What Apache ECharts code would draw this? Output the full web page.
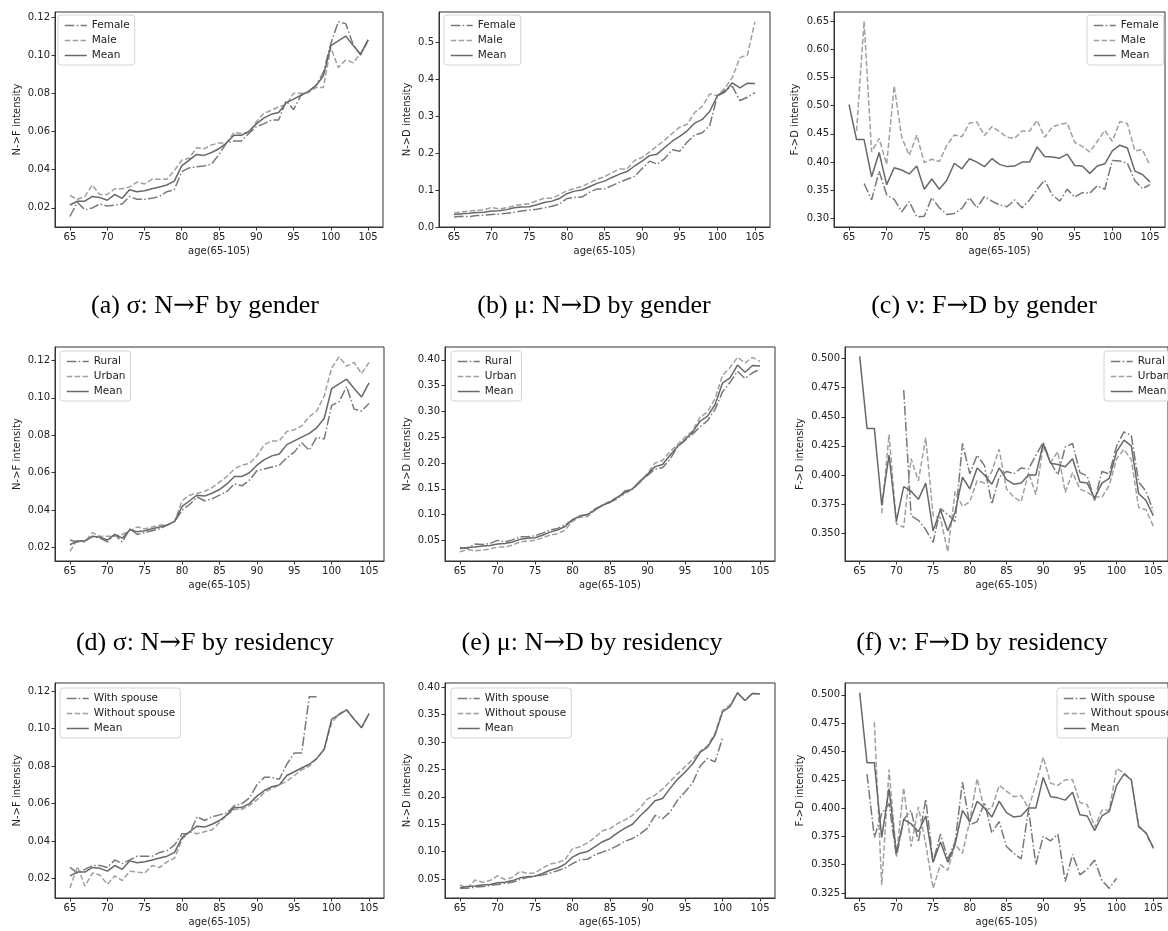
<!DOCTYPE html>
<html>
<head>
<meta charset="utf-8">
<script src="https://cdn.jsdelivr.net/npm/echarts@6/dist/echarts.min.js"></script>
<style>
  html, body { margin: 0; padding: 0; background: #fff; }
  #main { width: 1168px; height: 931px; }
</style>
</head>
<body>
<div id="main"></div>
<script>
// ages on the x axis
var ages = [65, 66, 67, 68, 69, 70, 71, 72, 73, 74,
            75, 76, 77, 78, 79, 80, 81, 82, 83, 84,
            85, 86, 87, 88, 89, 90, 91, 92, 93, 94,
            95, 96, 97, 98, 99, 100, 101, 102, 103, 104,
            105];
var xTicks = [65, 70, 75, 80, 85, 90, 95, 100, 105];

// y tick labels
var yTicksNF = [0.02, 0.04, 0.06, 0.08, 0.10, 0.12];
var yTicksNDb = [0.0, 0.1, 0.2, 0.3, 0.4, 0.5];
var yTicksFDc = [0.30, 0.35, 0.40, 0.45, 0.50, 0.55, 0.60, 0.65];
var yTicksND = [0.05, 0.10, 0.15, 0.20, 0.25, 0.30, 0.35, 0.40];
var yTicksFDf = [0.350, 0.375, 0.400, 0.425, 0.450, 0.475, 0.500];
var yTicksFDi = [0.325, 0.350, 0.375, 0.400, 0.425, 0.450, 0.475, 0.500];

// means (same in every grouping)
var meanNF = [0.0215, 0.0235, 0.0235, 0.026, 0.0255, 0.024, 0.027, 0.025, 0.0295, 0.0285,
              0.029, 0.030, 0.031, 0.032, 0.034, 0.042, 0.045, 0.048, 0.0475, 0.049,
              0.051, 0.054, 0.058, 0.058, 0.060, 0.064, 0.067, 0.069, 0.070, 0.075,
              0.077, 0.079, 0.081, 0.084, 0.089, 0.105, 0.1075, 0.110, 0.105, 0.1005,
              0.108];
var meanND = [0.034, 0.036, 0.037, 0.039, 0.040, 0.043, 0.044, 0.047, 0.052, 0.054,
              0.055, 0.060, 0.066, 0.070, 0.077, 0.090, 0.097, 0.100, 0.109, 0.118,
              0.124, 0.134, 0.143, 0.150, 0.165, 0.178, 0.193, 0.197, 0.215, 0.232,
              0.245, 0.260, 0.281, 0.291, 0.313, 0.355, 0.365, 0.390, 0.376, 0.389,
              0.388];
var meanFD = [0.502, 0.440, 0.440, 0.374, 0.417, 0.360, 0.390, 0.386, 0.379, 0.393,
              0.352, 0.370, 0.352, 0.368, 0.398, 0.388, 0.406, 0.400, 0.392, 0.406,
              0.396, 0.392, 0.393, 0.400, 0.400, 0.427, 0.410, 0.409, 0.407, 0.414,
              0.394, 0.393, 0.380, 0.393, 0.397, 0.420, 0.430, 0.425, 0.384, 0.378,
              0.365];

// by gender
var femaleNF = [0.0155, 0.023, 0.019, 0.020, 0.022, 0.021, 0.0215, 0.022, 0.026, 0.0245,
                0.0245, 0.025, 0.026, 0.0285, 0.0295, 0.039, 0.041, 0.0415, 0.042, 0.043,
                0.048, 0.054, 0.055, 0.055, 0.059, 0.0625, 0.064, 0.066, 0.066, 0.076,
                0.0715, 0.079, 0.081, 0.084, 0.091, 0.106, 0.1175, 0.1165, 0.1055, 0.100,
                0.108];
var maleNF = [0.0265, 0.0245, 0.026, 0.032, 0.027, 0.027, 0.030, 0.030, 0.031, 0.0335,
              0.0325, 0.035, 0.035, 0.035, 0.0395, 0.045, 0.046, 0.0515, 0.051, 0.053,
              0.054, 0.054, 0.0595, 0.059, 0.0595, 0.065, 0.0695, 0.071, 0.073, 0.074,
              0.080, 0.080, 0.0805, 0.083, 0.083, 0.104, 0.0935, 0.0975, 0.096, 0.101,
              0.107];
var femaleND = [0.027, 0.029, 0.028, 0.031, 0.032, 0.034, 0.035, 0.037, 0.040, 0.043,
                0.046, 0.048, 0.052, 0.056, 0.062, 0.077, 0.080, 0.081, 0.094, 0.103,
                0.103, 0.112, 0.121, 0.129, 0.137, 0.158, 0.178, 0.170, 0.185, 0.209,
                0.205, 0.230, 0.249, 0.255, 0.275, 0.355, 0.370, 0.380, 0.342, 0.351,
                0.363];
var maleND = [0.038, 0.041, 0.043, 0.045, 0.046, 0.053, 0.049, 0.052, 0.057, 0.061,
              0.063, 0.071, 0.078, 0.078, 0.087, 0.098, 0.104, 0.110, 0.119, 0.129,
              0.136, 0.147, 0.157, 0.157, 0.180, 0.188, 0.203, 0.219, 0.235, 0.253,
              0.270, 0.278, 0.310, 0.326, 0.360, 0.355, 0.375, 0.405, 0.458, 0.465,
              0.555];
var femaleFD = [null, null, 0.362, 0.333, 0.384, 0.342, 0.334, 0.312, 0.330, 0.303,
                0.304, 0.337, 0.319, 0.307, 0.309, 0.318, 0.337, 0.319, 0.339, 0.331,
                0.324, 0.321, 0.333, 0.319, 0.333, 0.352, 0.368, 0.342, 0.331, 0.352,
                0.338, 0.346, 0.345, 0.358, 0.352, 0.403, 0.402, 0.398, 0.367, 0.353,
                0.360];
var maleFD = [null, 0.455, 0.650, 0.418, 0.442, 0.396, 0.535, 0.444, 0.412, 0.448,
              0.399, 0.405, 0.401, 0.430, 0.448, 0.445, 0.469, 0.471, 0.447, 0.463,
              0.454, 0.444, 0.442, 0.455, 0.455, 0.474, 0.444, 0.462, 0.467, 0.469,
              0.435, 0.428, 0.418, 0.437, 0.456, 0.437, 0.472, 0.468, 0.420, 0.422,
              0.394];

// by residency
var ruralNF = [0.024, 0.023, 0.0235, 0.026, 0.025, 0.023, 0.027, 0.023, 0.030, 0.027,
               0.028, 0.029, 0.030, 0.032, 0.034, 0.040, 0.043, 0.047, 0.045, 0.046,
               0.048, 0.050, 0.054, 0.053, 0.056, 0.061, 0.062, 0.063, 0.064, 0.068,
               0.071, 0.076, 0.072, 0.079, 0.078, 0.096, 0.098, 0.106, 0.094, 0.093,
               0.097];
var urbanNF = [0.018, 0.024, 0.023, 0.028, 0.026, 0.026, 0.026, 0.027, 0.029, 0.031,
               0.030, 0.031, 0.032, 0.032, 0.034, 0.045, 0.048, 0.049, 0.050, 0.052,
               0.055, 0.058, 0.062, 0.064, 0.065, 0.069, 0.075, 0.077, 0.077, 0.082,
               0.083, 0.085, 0.090, 0.093, 0.101, 0.116, 0.122, 0.117, 0.119, 0.113,
               0.119];
var ruralND = [0.036, 0.034, 0.043, 0.042, 0.044, 0.050, 0.047, 0.051, 0.057, 0.057,
               0.059, 0.064, 0.070, 0.073, 0.080, 0.090, 0.098, 0.100, 0.111, 0.118,
               0.124, 0.131, 0.146, 0.149, 0.163, 0.176, 0.188, 0.191, 0.207, 0.232,
               0.244, 0.256, 0.270, 0.282, 0.304, 0.338, 0.356, 0.378, 0.364, 0.375,
               0.382];
var urbanND = [0.028, 0.032, 0.030, 0.031, 0.033, 0.037, 0.037, 0.041, 0.047, 0.049,
               0.050, 0.055, 0.060, 0.063, 0.070, 0.087, 0.095, 0.096, 0.109, 0.119,
               0.126, 0.134, 0.140, 0.150, 0.162, 0.180, 0.200, 0.205, 0.222, 0.236,
               0.250, 0.262, 0.289, 0.299, 0.325, 0.370, 0.385, 0.405, 0.394, 0.405,
               0.397];
var ruralFD = [null, null, null, null, null, null, 0.473, 0.365, 0.361, 0.353,
               0.342, 0.371, 0.366, 0.360, 0.427, 0.401, 0.417, 0.408, 0.375, 0.398,
               0.403, 0.401, 0.406, 0.405, 0.417, 0.428, 0.411, 0.400, 0.424, 0.427,
               0.402, 0.399, 0.378, 0.403, 0.401, 0.425, 0.437, 0.434, 0.394, 0.386,
               0.369];
var urbanFD = [null, null, null, 0.367, 0.435, 0.358, 0.355, 0.414, 0.395, 0.432,
               0.365, 0.363, 0.334, 0.386, 0.373, 0.377, 0.395, 0.393, 0.403, 0.422,
               0.388, 0.381, 0.377, 0.402, 0.383, 0.425, 0.411, 0.420, 0.385, 0.402,
               0.388, 0.385, 0.381, 0.381, 0.391, 0.414, 0.422, 0.413, 0.372, 0.370,
               0.356];

// by marital status
var spouseNF = [0.026, 0.023, 0.025, 0.027, 0.027, 0.026, 0.030, 0.028, 0.030, 0.032,
                0.032, 0.032, 0.034, 0.035, 0.038, 0.044, 0.044, 0.053, 0.051, 0.053,
                0.054, 0.055, 0.059, 0.060, 0.063, 0.070, 0.074, 0.074, 0.073, 0.081,
                0.087, 0.087, 0.117, 0.117, null, null, null, null, null, null,
                null];
var noSpouseNF = [0.015, 0.0265, 0.016, 0.023, 0.022, 0.017, 0.0215, 0.019, 0.024, 0.0235,
                  0.023, 0.027, 0.026, 0.029, 0.031, 0.041, 0.045, 0.044, 0.045, 0.046,
                  0.050, 0.054, 0.057, 0.057, 0.059, 0.062, 0.066, 0.068, 0.070, 0.072,
                  0.075, 0.078, 0.080, 0.084, 0.089, 0.103, 0.108, 0.110, 0.105, 0.1005,
                  0.108];
var spouseND = [0.033, 0.033, 0.035, 0.036, 0.038, 0.040, 0.042, 0.044, 0.049, 0.053,
                0.055, 0.057, 0.061, 0.065, 0.070, 0.078, 0.085, 0.086, 0.094, 0.099,
                0.104, 0.111, 0.119, 0.124, 0.132, 0.143, 0.166, 0.160, 0.172, 0.194,
                0.209, 0.225, 0.256, 0.270, 0.264, 0.307, null, null, null, null,
                null];
var noSpouseND = [0.039, 0.033, 0.048, 0.044, 0.047, 0.056, 0.049, 0.053, 0.064, 0.060,
                  0.061, 0.070, 0.077, 0.080, 0.085, 0.105, 0.109, 0.116, 0.126, 0.138,
                  0.142, 0.151, 0.158, 0.166, 0.180, 0.196, 0.203, 0.214, 0.228, 0.242,
                  0.255, 0.268, 0.283, 0.293, 0.316, 0.358, 0.368, 0.390, 0.376, 0.389,
                  0.388];
var spouseFD = [null, 0.430, 0.374, 0.395, 0.404, 0.357, 0.390, 0.398, 0.370, 0.408,
                0.352, 0.377, 0.355, 0.370, 0.423, 0.385, 0.388, 0.405, 0.378, 0.388,
                0.366, 0.360, 0.355, 0.399, 0.350, 0.375, 0.371, 0.377, 0.335, 0.359,
                0.341, 0.346, 0.354, 0.336, 0.329, 0.338, null, null, null, null,
                null];
var noSpouseFD = [null, null, 0.476, 0.332, 0.434, 0.358, 0.418, 0.366, 0.401, 0.368,
                  0.329, 0.350, 0.345, 0.368, 0.360, 0.389, 0.426, 0.398, 0.400, 0.420,
                  0.415, 0.410, 0.411, 0.400, 0.421, 0.445, 0.422, 0.420, 0.425, 0.425,
                  0.405, 0.403, 0.383, 0.398, 0.398, 0.435, 0.431, 0.425, 0.383, 0.378,
                  0.364];

var genderNames = ['Female', 'Male', 'Mean'];
var residNames = ['Rural', 'Urban', 'Mean'];
var spouseNames = ['With spouse', 'Without spouse', 'Mean'];

var captions = ['(a) σ: N→F by gender', '(b) μ: N→D by gender', '(c) ν: F→D by gender',
                '(d) σ: N→F by residency', '(e) μ: N→D by residency', '(f) ν: F→D by residency'];

// layout of the 9 panels
var panels = [
  {box: [55, 12, 328, 215], y: [0.0100, 0.1226], ticks: yTicksNF, dec: 2, yName: 'N->F intensity', gap: 33,
   names: genderNames, vals: [femaleNF, maleNF, meanNF], leg: [58, 15]},
  {box: [439, 12, 331, 215], y: [0, 0.5814], ticks: yTicksNDb, dec: 1, yName: 'N->D intensity', gap: 27,
   names: genderNames, vals: [femaleND, maleND, meanND], leg: [444, 15]},
  {box: [834, 12, 331, 215], y: [0.285, 0.666], ticks: yTicksFDc, dec: 2, yName: 'F->D intensity', gap: 34,
   names: genderNames, vals: [femaleFD, maleFD, meanFD], leg: [1087, 15]},
  {box: [55, 347, 329, 214], y: [0.0128, 0.1272], ticks: yTicksNF, dec: 2, yName: 'N->F intensity', gap: 33,
   names: residNames, vals: [ruralNF, urbanNF, meanNF], leg: [60, 351]},
  {box: [445, 347, 330, 214], y: [0.010, 0.425], ticks: yTicksND, dec: 2, yName: 'N->D intensity', gap: 33,
   names: residNames, vals: [ruralND, urbanND, meanND], leg: [451, 351]},
  {box: [845, 347, 328, 214], y: [0.326, 0.510], ticks: yTicksFDf, dec: 3, yName: 'F->D intensity', gap: 40,
   names: residNames, vals: [ruralFD, urbanFD, meanFD], leg: [1104, 351]},
  {box: [55, 683, 329, 215], y: [0.0097, 0.1243], ticks: yTicksNF, dec: 2, yName: 'N->F intensity', gap: 33,
   names: spouseNames, vals: [spouseNF, noSpouseNF, meanNF], leg: [60, 688]},
  {box: [445, 683, 330, 215], y: [0.0152, 0.408], ticks: yTicksND, dec: 2, yName: 'N->D intensity', gap: 33,
   names: spouseNames, vals: [spouseND, noSpouseND, meanND], leg: [451, 688]},
  {box: [845, 683, 328, 215], y: [0.3205, 0.5105], ticks: yTicksFDi, dec: 3, yName: 'F->D intensity', gap: 40,
   names: spouseNames, vals: [spouseFD, noSpouseFD, meanFD], leg: [1057, 688]}
];
var captionPos = [[205, 306], [594, 306], [984, 306], [205, 643], [592, 643], [982, 643]];

var axisColor = '#333';
var font = 'DejaVu Sans';
var lineStyles = [
  {color: '#787878', width: 1.5, type: [9.6, 2.4, 1.5, 2.4]},
  {color: '#a0a0a0', width: 1.5, type: [5.5, 2.4]},
  {color: '#686868', width: 1.5, type: 'solid'}
];

function pairs(vals) {
  return ages.map(function (a, i) { return [a, vals[i]]; });
}

var option = {
  animation: false,
  backgroundColor: '#fff',
  grid: [], xAxis: [], yAxis: [], series: [], legend: [], graphic: []
};

panels.forEach(function (p, i) {
  option.grid.push({
    left: p.box[0], top: p.box[1], width: p.box[2], height: p.box[3],
    show: true, borderColor: axisColor, borderWidth: 1, backgroundColor: 'transparent'
  });
  option.xAxis.push({
    type: 'value', gridIndex: i, min: 63, max: 107,
    name: 'age(65-105)', nameLocation: 'middle', nameGap: 19,
    nameTextStyle: {fontFamily: font, fontSize: 10, color: '#222'},
    axisLine: {lineStyle: {color: axisColor, width: 1}},
    axisTick: {customValues: xTicks, length: 3.5, lineStyle: {color: axisColor}},
    axisLabel: {customValues: xTicks, margin: 5, fontFamily: font, fontSize: 10, color: '#222'},
    splitLine: {show: false}
  });
  option.yAxis.push({
    type: 'value', gridIndex: i, min: p.y[0], max: p.y[1],
    name: p.yName, nameLocation: 'middle', nameGap: p.gap,
    nameTextStyle: {fontFamily: font, fontSize: 10, color: '#222'},
    axisLine: {lineStyle: {color: axisColor, width: 1}},
    axisTick: {customValues: p.ticks, length: 3.5, lineStyle: {color: axisColor}},
    axisLabel: {
      customValues: p.ticks, margin: 5, fontFamily: font, fontSize: 10, color: '#222',
      formatter: (function (d) { return function (v) { return v.toFixed(d); }; })(p.dec)
    },
    splitLine: {show: false}
  });
  p.names.forEach(function (name, k) {
    option.series.push({
      type: 'line', name: name, xAxisIndex: i, yAxisIndex: i,
      data: pairs(p.vals[k]), symbol: 'none', showSymbol: false,
      connectNulls: false, silent: true,
      lineStyle: lineStyles[k], itemStyle: {color: lineStyles[k].color}
    });
  });
  option.legend.push({
    orient: 'vertical', left: p.leg[0], top: p.leg[1],
    data: p.names, selectedMode: false,
    itemWidth: 22, itemHeight: 10, itemGap: 4,
    padding: [5, 5, 4, 6],
    borderColor: '#d4d4d4', borderWidth: 1, borderRadius: 3,
    backgroundColor: 'rgba(255,255,255,0.85)',
    itemStyle: {opacity: 0},
    lineStyle: {width: 1.5},
    textStyle: {fontFamily: font, fontSize: 10.5, color: '#222'}
  });
});

// captions under the first two rows; the arrow gets a wider glyph
captions.forEach(function (t, i) {
  option.graphic.push({
    type: 'text', x: captionPos[i][0], y: captionPos[i][1],
    style: {
      text: t.replace('→', '{arr|→}'),
      fontFamily: '"Liberation Serif", serif', fontSize: 26,
      fill: '#000', align: 'center', verticalAlign: 'middle',
      rich: {
        arr: {fontFamily: '"DejaVu Serif", serif', fontSize: 26, fill: '#000'}
      }
    }
  });
});

var myChart = echarts.init(document.getElementById('main'));
myChart.setOption(option);
</script>
</body>
</html>
